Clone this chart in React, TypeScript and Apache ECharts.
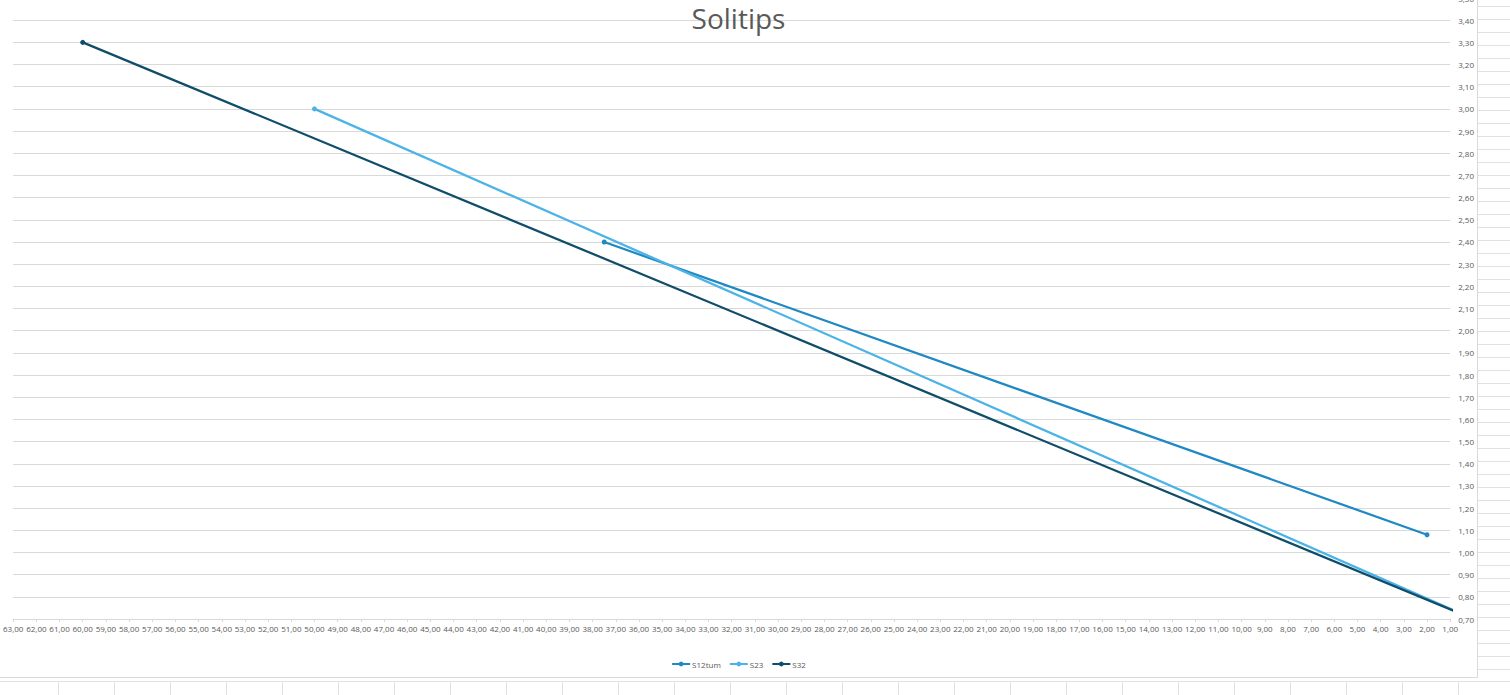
import React, { useEffect, useRef } from "react";
import * as echarts from "echarts";

const seriesNames = ["S12tum", "S23", "S32"];
const s12tum: [number, number][] = [[37.5, 2.4], [2, 1.08]];
const s23: [number, number][] = [[50, 3.0], [0, 0.7]];
const s32: [number, number][] = [[60, 3.3], [0, 0.7]];
const seriesColors = ["#2089c3", "#4bb3e6", "#0f4d6a"];
const xMin = 1;
const xMax = 63;
const yMin = 0.7;
const yMax = 3.5;

const fmt = (v: number) => v.toFixed(2).replace(".", ",");

export default function App() {
  const ref = useRef<HTMLDivElement>(null);
  useEffect(() => {
    if (!ref.current) return;
    const chart = echarts.init(ref.current, null, { renderer: "svg" });
    const font = "'Open Sans', 'Liberation Sans', sans-serif";
    const data = [s12tum, s23, s32];
    chart.setOption({
      animation: false,
      backgroundColor: "#ffffff",
      title: {
        text: "Solitips",
        left: "center",
        top: 9,
        textStyle: { fontFamily: font, fontSize: 28, fontWeight: "normal", color: "#595959" },
      },
      legend: {
        data: seriesNames,
        left: "center",
        top: 665,
        itemWidth: 18,
        itemHeight: 6,
        itemGap: 8,
        textStyle: { fontFamily: font, fontSize: 8, color: "#595959", padding: [0, 0, 0, -3] },
      },
      grid: { left: 13, right: 23, top: 8, bottom: 58, containLabel: false },
      xAxis: {
        type: "value",
        inverse: true,
        min: xMin,
        max: xMax,
        interval: 1,
        axisLine: { show: true, lineStyle: { color: "#d9d9d9", width: 1 } },
        axisTick: { show: true, length: 3, lineStyle: { color: "#d9d9d9" } },
        axisLabel: {
          formatter: fmt,
          fontFamily: font,
          fontSize: 8,
          color: "#595959",
          margin: 5,
          showMinLabel: true,
          showMaxLabel: true,
        },
        splitLine: { show: false },
      },
      yAxis: {
        type: "value",
        position: "right",
        min: yMin,
        max: yMax,
        interval: 0.1,
        axisLine: { show: false },
        axisTick: { show: false },
        axisLabel: {
          formatter: fmt,
          fontFamily: font,
          fontSize: 8,
          color: "#595959",
          margin: 8,
          showMinLabel: true,
          showMaxLabel: true,
        },
        splitLine: { show: true, lineStyle: { color: "#d9d9d9", width: 1 } },
      },
      series: seriesNames.map((name, i) => ({
        name,
        type: "line",
        data: data[i],
        clip: true,
        symbol: "circle",
        symbolSize: 5,
        showAllSymbol: true,
        itemStyle: { color: seriesColors[i] },
        lineStyle: { color: seriesColors[i], width: 2.25 },
      })),
    });
    return () => chart.dispose();
  }, []);

  const gridColor = "#e1e1e1";
  return (
    <div
      style={{
        position: "fixed",
        left: 0,
        top: 0,
        width: 1510,
        height: 695,
        overflow: "hidden",
        background: "#ffffff",
      }}
    >
      <div
        style={{
          position: "absolute",
          left: 1478,
          top: 0,
          width: 32,
          height: 682,
          backgroundImage: `repeating-linear-gradient(to bottom, transparent 0px, transparent 12px, ${gridColor} 12px, ${gridColor} 13px)`,
          backgroundPosition: "0 -6px",
        }}
      />
      <div
        style={{
          position: "absolute",
          left: 0,
          top: 681,
          width: 1510,
          height: 14,
          borderTop: `1px solid ${gridColor}`,
          backgroundImage: `repeating-linear-gradient(to right, transparent 0px, transparent 55px, ${gridColor} 55px, ${gridColor} 56px)`,
          backgroundPosition: "3px 0",
        }}
      />
      <div
        ref={ref}
        style={{
          position: "absolute",
          left: 0,
          top: -10,
          width: 1477,
          height: 687,
          borderRight: "1px solid #d9d9d9",
          borderBottom: "1px solid #d9d9d9",
          background: "#ffffff",
        }}
      />
    </div>
  );
}
